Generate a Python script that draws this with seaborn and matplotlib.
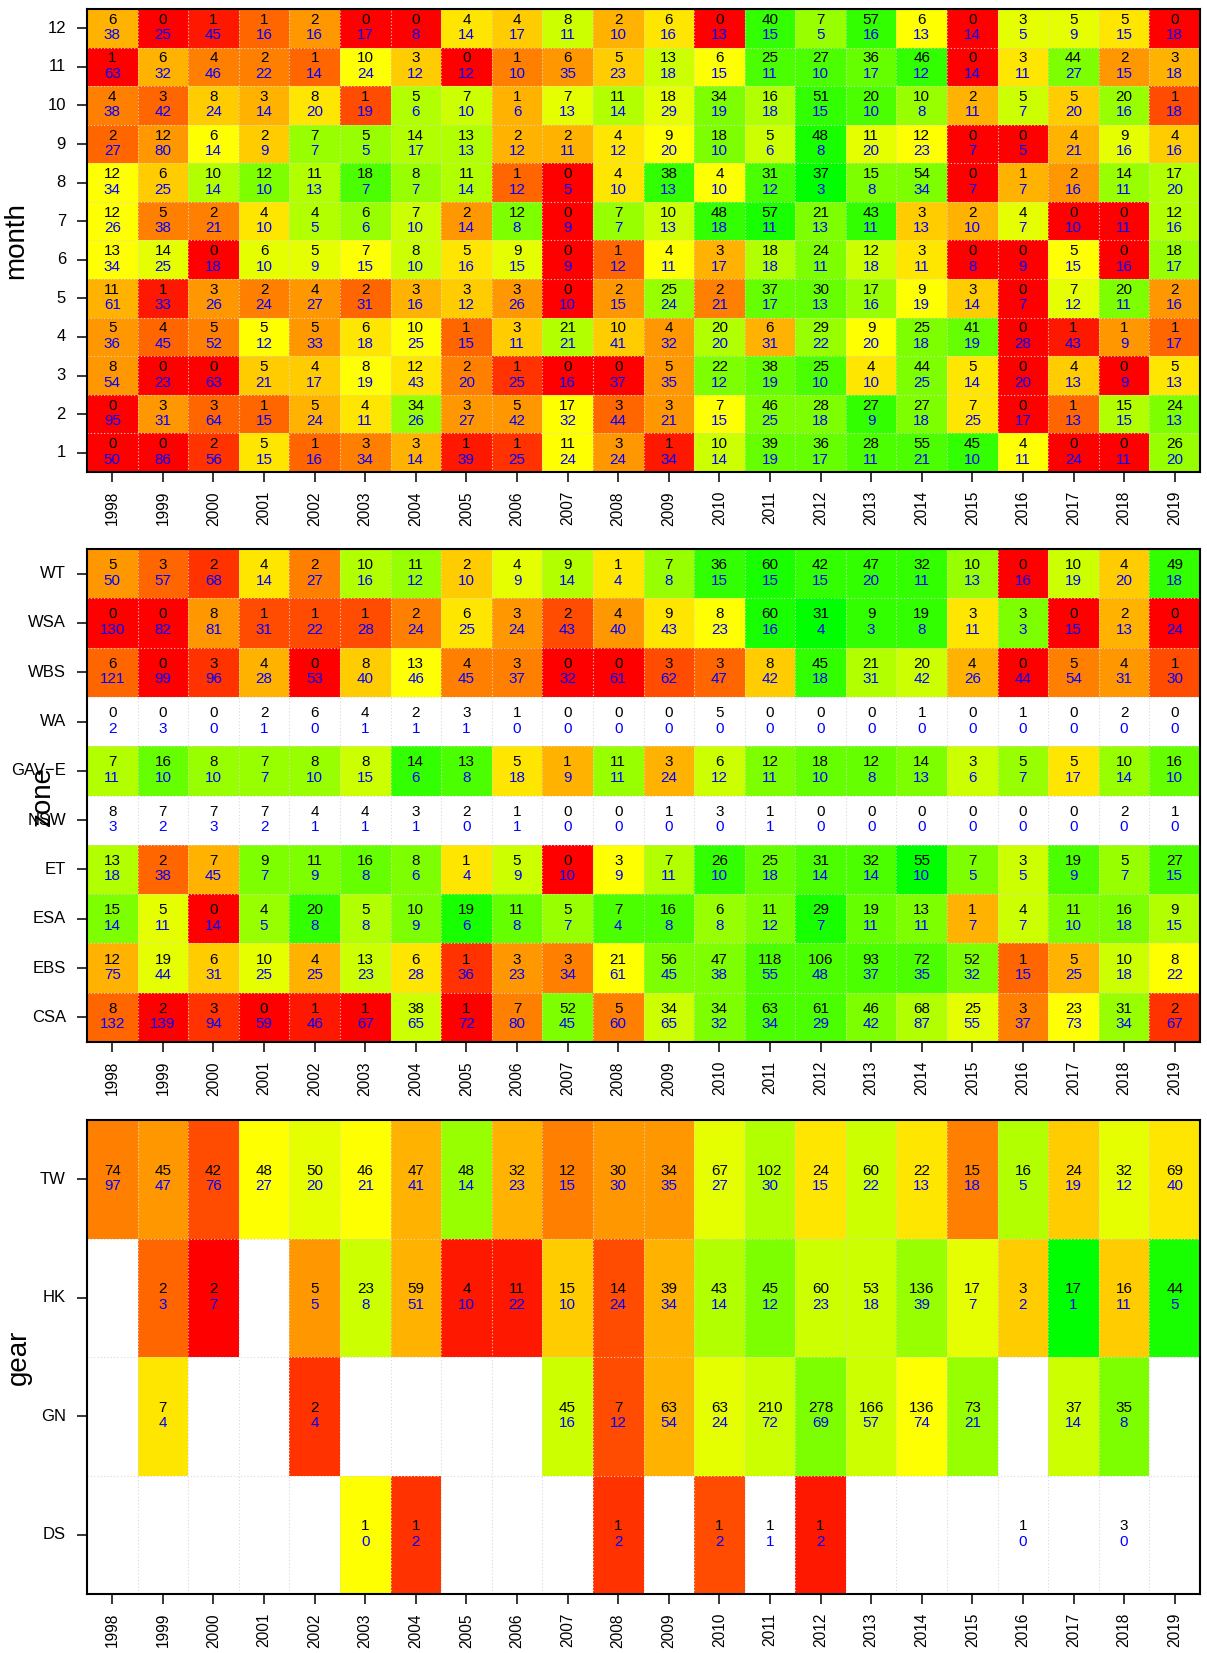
import numpy as np
import pandas as pd
import matplotlib
matplotlib.use("Agg")
import matplotlib.pyplot as plt
from matplotlib.colors import LinearSegmentedColormap
import seaborn as sns

plt.rcParams["font.family"] = ["Liberation Sans", "DejaVu Sans"]

years = list(range(1998, 2020))
N = None

# ---- panel 1: month (rows listed top to bottom) ----
month_rows = ["12", "11", "10", "9", "8", "7", "6", "5", "4", "3", "2", "1"]
month_top = [
    [6, 0, 1, 1, 2, 0, 0, 4, 4, 8, 2, 6, 0, 40, 7, 57, 6, 0, 3, 5, 5, 0],
    [1, 6, 4, 2, 1, 10, 3, 0, 1, 6, 5, 13, 6, 25, 27, 36, 46, 0, 3, 44, 2, 3],
    [4, 3, 8, 3, 8, 1, 5, 7, 1, 7, 11, 18, 34, 16, 51, 20, 10, 2, 5, 5, 20, 1],
    [2, 12, 6, 2, 7, 5, 14, 13, 2, 2, 4, 9, 18, 5, 48, 11, 12, 0, 0, 4, 9, 4],
    [12, 6, 10, 12, 11, 18, 8, 11, 1, 0, 4, 38, 4, 31, 37, 15, 54, 0, 1, 2, 14, 17],
    [12, 5, 2, 4, 4, 6, 7, 2, 12, 0, 7, 10, 48, 57, 21, 43, 3, 2, 4, 0, 0, 12],
    [13, 14, 0, 6, 5, 7, 8, 5, 9, 0, 1, 4, 3, 18, 24, 12, 3, 0, 0, 5, 0, 18],
    [11, 1, 3, 2, 4, 2, 3, 3, 3, 0, 2, 25, 2, 37, 30, 17, 9, 3, 0, 7, 20, 2],
    [5, 4, 5, 5, 5, 6, 10, 1, 3, 21, 10, 4, 20, 6, 29, 9, 25, 41, 0, 1, 1, 1],
    [8, 0, 0, 5, 4, 8, 12, 2, 1, 0, 0, 5, 22, 38, 25, 4, 44, 5, 0, 4, 0, 5],
    [0, 3, 3, 1, 5, 4, 34, 3, 5, 17, 3, 3, 7, 46, 28, 27, 27, 7, 0, 1, 15, 24],
    [0, 0, 2, 5, 1, 3, 3, 1, 1, 11, 3, 1, 10, 39, 36, 28, 55, 45, 4, 0, 0, 26],
]
month_bottom = [
    [38, 25, 45, 16, 16, 17, 8, 14, 17, 11, 10, 16, 13, 15, 5, 16, 13, 14, 5, 9, 15, 18],
    [63, 32, 46, 22, 14, 24, 12, 12, 10, 35, 23, 18, 15, 11, 10, 17, 12, 14, 11, 27, 15, 18],
    [38, 42, 24, 14, 20, 19, 6, 10, 6, 13, 14, 29, 19, 18, 15, 10, 8, 11, 7, 20, 16, 18],
    [27, 80, 14, 9, 7, 5, 17, 13, 12, 11, 12, 20, 10, 6, 8, 20, 23, 7, 5, 21, 16, 16],
    [34, 25, 14, 10, 13, 7, 7, 14, 12, 5, 10, 13, 10, 12, 3, 8, 34, 7, 7, 16, 11, 20],
    [26, 38, 21, 10, 5, 6, 10, 14, 8, 9, 7, 13, 18, 11, 13, 11, 13, 10, 7, 10, 11, 16],
    [34, 25, 18, 10, 9, 15, 10, 16, 15, 9, 12, 11, 17, 18, 11, 18, 11, 8, 9, 15, 16, 17],
    [61, 33, 26, 24, 27, 31, 16, 12, 26, 10, 15, 24, 21, 17, 13, 16, 19, 14, 7, 12, 11, 16],
    [36, 45, 52, 12, 33, 18, 25, 15, 11, 21, 41, 32, 20, 31, 22, 20, 18, 19, 28, 43, 9, 17],
    [54, 23, 63, 21, 17, 19, 43, 20, 25, 16, 37, 35, 12, 19, 10, 10, 25, 14, 20, 13, 9, 13],
    [95, 31, 64, 15, 24, 11, 26, 27, 42, 32, 44, 21, 15, 25, 18, 9, 18, 25, 17, 13, 15, 13],
    [50, 86, 56, 15, 16, 34, 14, 39, 25, 24, 24, 34, 14, 19, 17, 11, 21, 10, 11, 24, 11, 20],
]
# colour level: 0 = red, 10 = yellow, 20 = green
month_score = [
    [7, 0, 1, 4, 6, 0, 0, 9, 8, 12, 7, 9, 0, 18, 14, 18, 10, 0, 11, 11, 9, 0],
    [0, 7, 5, 5, 4, 10, 8, 0, 5, 6, 8, 12, 10, 17, 17, 16, 18, 0, 9, 15, 6, 7],
    [5, 4, 8, 7, 9, 3, 13, 12, 7, 11, 13, 11, 15, 13, 18, 17, 14, 7, 12, 8, 14, 3],
    [4, 6, 10, 8, 14, 14, 13, 13, 7, 7, 9, 10, 15, 12, 19, 11, 10, 0, 0, 7, 11, 8],
    [10, 8, 13, 15, 13, 17, 14, 13, 4, 0, 9, 18, 10, 17, 20, 15, 15, 0, 7, 6, 14, 13],
    [10, 5, 5, 9, 13, 14, 12, 6, 15, 0, 14, 12, 18, 19, 15, 18, 8, 7, 11, 0, 0, 13],
    [10, 11, 0, 11, 11, 10, 12, 9, 11, 0, 4, 10, 7, 13, 15, 12, 9, 0, 0, 10, 0, 14],
    [7, 1, 6, 5, 6, 4, 7, 8, 6, 0, 6, 14, 5, 16, 16, 14, 10, 8, 0, 11, 15, 6],
    [6, 4, 5, 10, 6, 9, 10, 4, 8, 13, 8, 6, 13, 7, 14, 10, 15, 16, 0, 1, 6, 4],
    [6, 0, 0, 8, 8, 10, 9, 5, 2, 0, 0, 6, 15, 16, 17, 9, 15, 9, 0, 8, 0, 9],
    [0, 6, 4, 4, 7, 9, 14, 6, 6, 10, 4, 6, 10, 15, 15, 18, 15, 9, 0, 4, 13, 15],
    [0, 0, 2, 9, 4, 5, 7, 1, 2, 10, 6, 1, 12, 16, 16, 17, 17, 18, 10, 0, 0, 14],
]

# ---- panel 2: zone ----
zone_rows = ["WT", "WSA", "WBS", "WA", "GAV\u2212E", "NSW", "ET", "ESA", "EBS", "CSA"]
zone_top = [
    [5, 3, 2, 4, 2, 10, 11, 2, 4, 9, 1, 7, 36, 60, 42, 47, 32, 10, 0, 10, 4, 49],
    [0, 0, 8, 1, 1, 1, 2, 6, 3, 2, 4, 9, 8, 60, 31, 9, 19, 3, 3, 0, 2, 0],
    [6, 0, 3, 4, 0, 8, 13, 4, 3, 0, 0, 3, 3, 8, 45, 21, 20, 4, 0, 5, 4, 1],
    [0, 0, 0, 2, 6, 4, 2, 3, 1, 0, 0, 0, 5, 0, 0, 0, 1, 0, 1, 0, 2, 0],
    [7, 16, 8, 7, 8, 8, 14, 13, 5, 1, 11, 3, 6, 12, 18, 12, 14, 3, 5, 5, 10, 16],
    [8, 7, 7, 7, 4, 4, 3, 2, 1, 0, 0, 1, 3, 1, 0, 0, 0, 0, 0, 0, 2, 1],
    [13, 2, 7, 9, 11, 16, 8, 1, 5, 0, 3, 7, 26, 25, 31, 32, 55, 7, 3, 19, 5, 27],
    [15, 5, 0, 4, 20, 5, 10, 19, 11, 5, 7, 16, 6, 11, 29, 19, 13, 1, 4, 11, 16, 9],
    [12, 19, 6, 10, 4, 13, 6, 1, 3, 3, 21, 56, 47, 118, 106, 93, 72, 52, 1, 5, 10, 8],
    [8, 2, 3, 0, 1, 1, 38, 1, 7, 52, 5, 34, 34, 63, 61, 46, 68, 25, 3, 23, 31, 2],
]
zone_bottom = [
    [50, 57, 68, 14, 27, 16, 12, 10, 9, 14, 4, 8, 15, 15, 15, 20, 11, 13, 16, 19, 20, 18],
    [130, 82, 81, 31, 22, 28, 24, 25, 24, 43, 40, 43, 23, 16, 4, 3, 8, 11, 3, 15, 13, 24],
    [121, 99, 96, 28, 53, 40, 46, 45, 37, 32, 61, 62, 47, 42, 18, 31, 42, 26, 44, 54, 31, 30],
    [2, 3, 0, 1, 0, 1, 1, 1, 0, 0, 0, 0, 0, 0, 0, 0, 0, 0, 0, 0, 0, 0],
    [11, 10, 10, 7, 10, 15, 6, 8, 18, 9, 11, 24, 12, 11, 10, 8, 13, 6, 7, 17, 14, 10],
    [3, 2, 3, 2, 1, 1, 1, 0, 1, 0, 0, 0, 0, 1, 0, 0, 0, 0, 0, 0, 0, 0],
    [18, 38, 45, 7, 9, 8, 6, 4, 9, 10, 9, 11, 10, 18, 14, 14, 10, 5, 5, 9, 7, 15],
    [14, 11, 14, 5, 8, 8, 9, 6, 8, 7, 4, 8, 8, 12, 7, 11, 11, 7, 7, 10, 18, 15],
    [75, 44, 31, 25, 25, 23, 28, 36, 23, 34, 61, 45, 38, 55, 48, 37, 35, 32, 15, 25, 18, 22],
    [132, 139, 94, 59, 46, 67, 65, 72, 80, 45, 60, 65, 32, 34, 29, 42, 87, 55, 37, 73, 34, 67],
]
zone_score = [
    [6, 4, 2, 9, 5, 13, 14, 8, 11, 13, 9, 14, 18, 19, 18, 18, 18, 14, 0, 12, 8, 18],
    [0, 0, 6, 3, 3, 3, 5, 9, 6, 3, 6, 9, 10, 19, 20, 18, 18, 9, 15, 0, 7, 0],
    [4, 0, 2, 7, 0, 8, 10, 5, 5, 0, 0, 3, 4, 8, 18, 13, 12, 7, 0, 5, 6, 3],
    [N] * 22,
    [13, 16, 14, 14, 14, 12, 18, 17, 9, 7, 14, 7, 12, 15, 16, 16, 15, 12, 14, 9, 14, 16],
    [N] * 22,
    [13, 4, 7, 15, 15, 16, 15, 9, 12, 0, 10, 13, 18, 16, 17, 17, 20, 15, 12, 17, 14, 17],
    [15, 11, 0, 14, 18, 13, 15, 19, 16, 14, 17, 17, 14, 15, 19, 16, 15, 7, 12, 15, 15, 13],
    [7, 11, 8, 11, 7, 12, 9, 2, 6, 5, 10, 15, 15, 17, 17, 17, 17, 15, 4, 7, 12, 10],
    [4, 0, 2, 0, 1, 0, 12, 0, 5, 15, 5, 12, 15, 17, 17, 15, 13, 11, 5, 10, 14, 2],
]

# ---- panel 3: gear ----
gear_rows = ["TW", "HK", "GN", "DS"]
gear_top = [
    [74, 45, 42, 48, 50, 46, 47, 48, 32, 12, 30, 34, 67, 102, 24, 60, 22, 15, 16, 24, 32, 69],
    [N, 2, 2, N, 5, 23, 59, 4, 11, 15, 14, 39, 43, 45, 60, 53, 136, 17, 3, 17, 16, 44],
    [N, 7, N, N, 2, N, N, N, N, 45, 7, 63, 63, 210, 278, 166, 136, 73, N, 37, 35, N],
    [N, N, N, N, N, 1, 1, N, N, N, 1, N, 1, 1, 1, N, N, N, 1, N, 3, N],
]
gear_bottom = [
    [97, 47, 76, 27, 20, 21, 41, 14, 23, 15, 30, 35, 27, 30, 15, 22, 13, 18, 5, 19, 12, 40],
    [N, 3, 7, N, 5, 8, 51, 10, 22, 10, 24, 34, 14, 12, 23, 18, 39, 7, 2, 1, 11, 5],
    [N, 4, N, N, 4, N, N, N, N, 16, 12, 54, 24, 72, 69, 57, 74, 21, N, 14, 8, N],
    [N, N, N, N, N, 0, 2, N, N, N, 2, N, 2, 1, 2, N, N, N, 0, N, 0, N],
]
gear_score = [
    [5, 6, 3, 10, 11, 10, 7, 14, 7, 5, 6, 6, 11, 13, 9, 12, 9, 5, 13, 8, 11, 9],
    [N, 4, 0, N, 6, 12, 7, 1, 1, 8, 3, 7, 13, 15, 12, 12, 14, 11, 8, 20, 8, 19],
    [N, 9, N, N, 2, N, N, N, N, 12, 3, 7, 11, 12, 15, 12, 10, 14, N, 12, 15, N],
    [N, N, N, N, N, 10, 2, N, N, N, 2, N, 3, N, 1, N, N, N, N, N, N, N],
]

cmap = LinearSegmentedColormap.from_list("ryg", ["#FF0000", "#FFFF00", "#00FF00"])

W, H = 1207, 1653
fig = plt.figure(figsize=(W / 100, H / 100), dpi=100)


def panel(box, rows, top, bottom, score, ylabel, label_x):
    x0, y0, x1, y1 = box
    ax = fig.add_axes([x0 / W, 1 - y1 / H, (x1 - x0) / W, (y1 - y0) / H])
    sc = pd.DataFrame(np.array(score, dtype=float), index=rows, columns=years)
    sns.heatmap(sc, cmap=cmap, vmin=0, vmax=20, cbar=False, ax=ax)
    t = np.array(top, dtype=float)
    b = np.array(bottom, dtype=float)
    nr, nc = t.shape
    for k in range(nc + 1):
        ax.axvline(k, color="#D8D8D8", ls=(0, (1, 2)), lw=0.8)
    for k in range(nr + 1):
        ax.axhline(k, color="#D8D8D8", ls=(0, (1, 2)), lw=0.8)
    for i in range(nr):
        for j in range(nc):
            if not np.isnan(t[i, j]):
                ax.annotate(str(int(t[i, j])), (j + 0.5, i + 0.5), xytext=(0, 8.5),
                            textcoords="offset pixels", ha="center", va="center",
                            fontsize=11, color="black")
            if not np.isnan(b[i, j]):
                ax.annotate(str(int(b[i, j])), (j + 0.5, i + 0.5), xytext=(0, -7),
                            textcoords="offset pixels", ha="center", va="center",
                            fontsize=11, color="blue")
    for sp in ax.spines.values():
        sp.set_visible(True)
        sp.set_linewidth(1.5)
        sp.set_color("black")
        sp.set_zorder(5)
    ax.set_facecolor("white")
    ax.set_xticks(np.arange(nc) + 0.5)
    ax.set_xticklabels([str(y) for y in years], rotation=90, va="top")
    ax.set_yticks(np.arange(nr) + 0.5)
    ax.set_yticklabels(rows, rotation=0, va="center")
    ax.tick_params(axis="x", length=7.2, width=1.1, pad=6.5, labelsize=11.2,
                   bottom=True, direction="out")
    ax.tick_params(axis="y", length=7.2, width=1.1, pad=8, labelsize=12,
                   left=True, direction="out")
    ax.set_xlabel("")
    ax.set_ylabel("")
    fig.text(label_x / W, 1 - ((y0 + y1) / 2) / H, ylabel, rotation=90,
             ha="center", va="center", fontsize=20)
    return ax


panel((87, 9, 1200, 472), month_rows, month_top, month_bottom, month_score, "month", 16)
panel((87, 549, 1200, 1042), zone_rows, zone_top, zone_bottom, zone_score, "zone", 43)
panel((87, 1120, 1200, 1594), gear_rows, gear_top, gear_bottom, gear_score, "gear", 19)

fig.savefig("out.png", dpi=100)
